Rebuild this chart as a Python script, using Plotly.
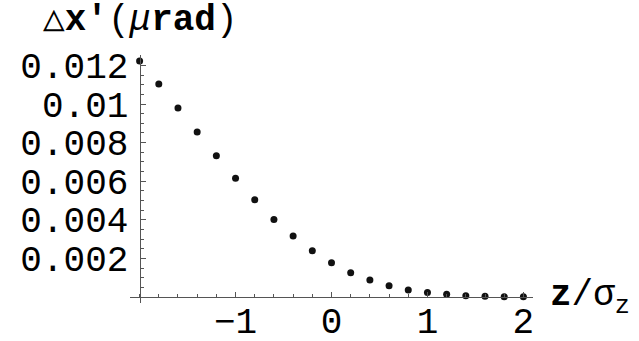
import plotly.graph_objects as go

# z / sigma_z sample positions and the corresponding angular kick
z_over_sigma = [-2.0, -1.8, -1.6, -1.4, -1.2, -1.0, -0.8, -0.6, -0.4, -0.2, 0.0,
                0.2, 0.4, 0.6, 0.8, 1.0, 1.2, 1.4, 1.6, 1.8, 2.0]
delta_xp = [0.01223, 0.01104, 0.00979, 0.00855, 0.00732, 0.00615, 0.00504,
            0.00402, 0.00316, 0.00240, 0.00178, 0.00126, 0.00088, 0.00059,
            0.00037, 0.00024, 0.00014, 0.00007, 0.00004, 0.00002, 0.00001]

x_ticks = [-1, 0, 1, 2]
x_tick_text = ["\u22121", "0", "1", "2"]
y_ticks = [0.002, 0.004, 0.006, 0.008, 0.010, 0.012]
y_tick_text = ["0.002", "0.004", "0.006", "0.008", "0.01", "0.012"]

x_range = [-2.1, 2.1]
y_range = [-0.00031, 0.01254]

mono = "Liberation Mono, Courier New, monospace"
axis_col = "#555555"
fsize = 36

fig = go.Figure()
fig.add_trace(go.Scatter(
    x=z_over_sigma, y=delta_xp, mode="markers",
    marker=dict(color="#111111", size=7, line=dict(width=0)),
    hoverinfo="skip", showlegend=False,
))

# axes cross at (x=-2, y=0), like a classic mathematical plot
x_cross = (-2.0 - x_range[0]) / (x_range[1] - x_range[0])
y_cross = (0.0 - y_range[0]) / (y_range[1] - y_range[0])

fig.update_layout(
    width=639, height=341,
    margin=dict(l=130, r=106, t=55, b=38, autoexpand=False),
    paper_bgcolor="white", plot_bgcolor="white",
    font=dict(family=mono, size=fsize, color="black"),
    xaxis=dict(
        range=x_range, anchor="free", position=y_cross, automargin=False,
        showgrid=False, zeroline=False,
        showline=True, linecolor=axis_col, linewidth=1,
        tickmode="array", tickvals=x_ticks, ticktext=x_tick_text,
        ticks="inside", ticklen=5, tickwidth=1, tickcolor=axis_col,
        minor=dict(ticks="inside", ticklen=3, tickwidth=1, tickcolor=axis_col,
                   dtick=0.2, tick0=0, showgrid=False),
        tickfont=dict(family=mono, size=fsize, color="black"),
        ticklabelstandoff=-8,
    ),
    yaxis=dict(
        range=y_range, anchor="free", position=x_cross, automargin=False,
        showgrid=False, zeroline=False,
        showline=True, linecolor=axis_col, linewidth=1,
        tickmode="array", tickvals=y_ticks, ticktext=y_tick_text,
        ticks="inside", ticklen=5, tickwidth=1, tickcolor=axis_col,
        minor=dict(ticks="inside", ticklen=3, tickwidth=1, tickcolor=axis_col,
                   dtick=0.0005, tick0=0, showgrid=False),
        tickfont=dict(family=mono, size=fsize, color="black"),
        ticklabelstandoff=4,
    ),
    annotations=[
        dict(text="\u25b3<b>x'</b>(<i>\u03bc</i><b>rad</b>)",
             xref="paper", yref="paper", x=-0.22, y=1.141,
             xanchor="left", yanchor="middle", showarrow=False,
             font=dict(family=mono, size=fsize, color="black")),
        dict(text="<b>z</b>/\u03c3<sub>z</sub>",
             xref="paper", yref="paper", x=1.038, y=0.02,
             xanchor="left", yanchor="middle", showarrow=False,
             font=dict(family=mono, size=fsize, color="black")),
    ],
)

fig.write_html("out.html")
